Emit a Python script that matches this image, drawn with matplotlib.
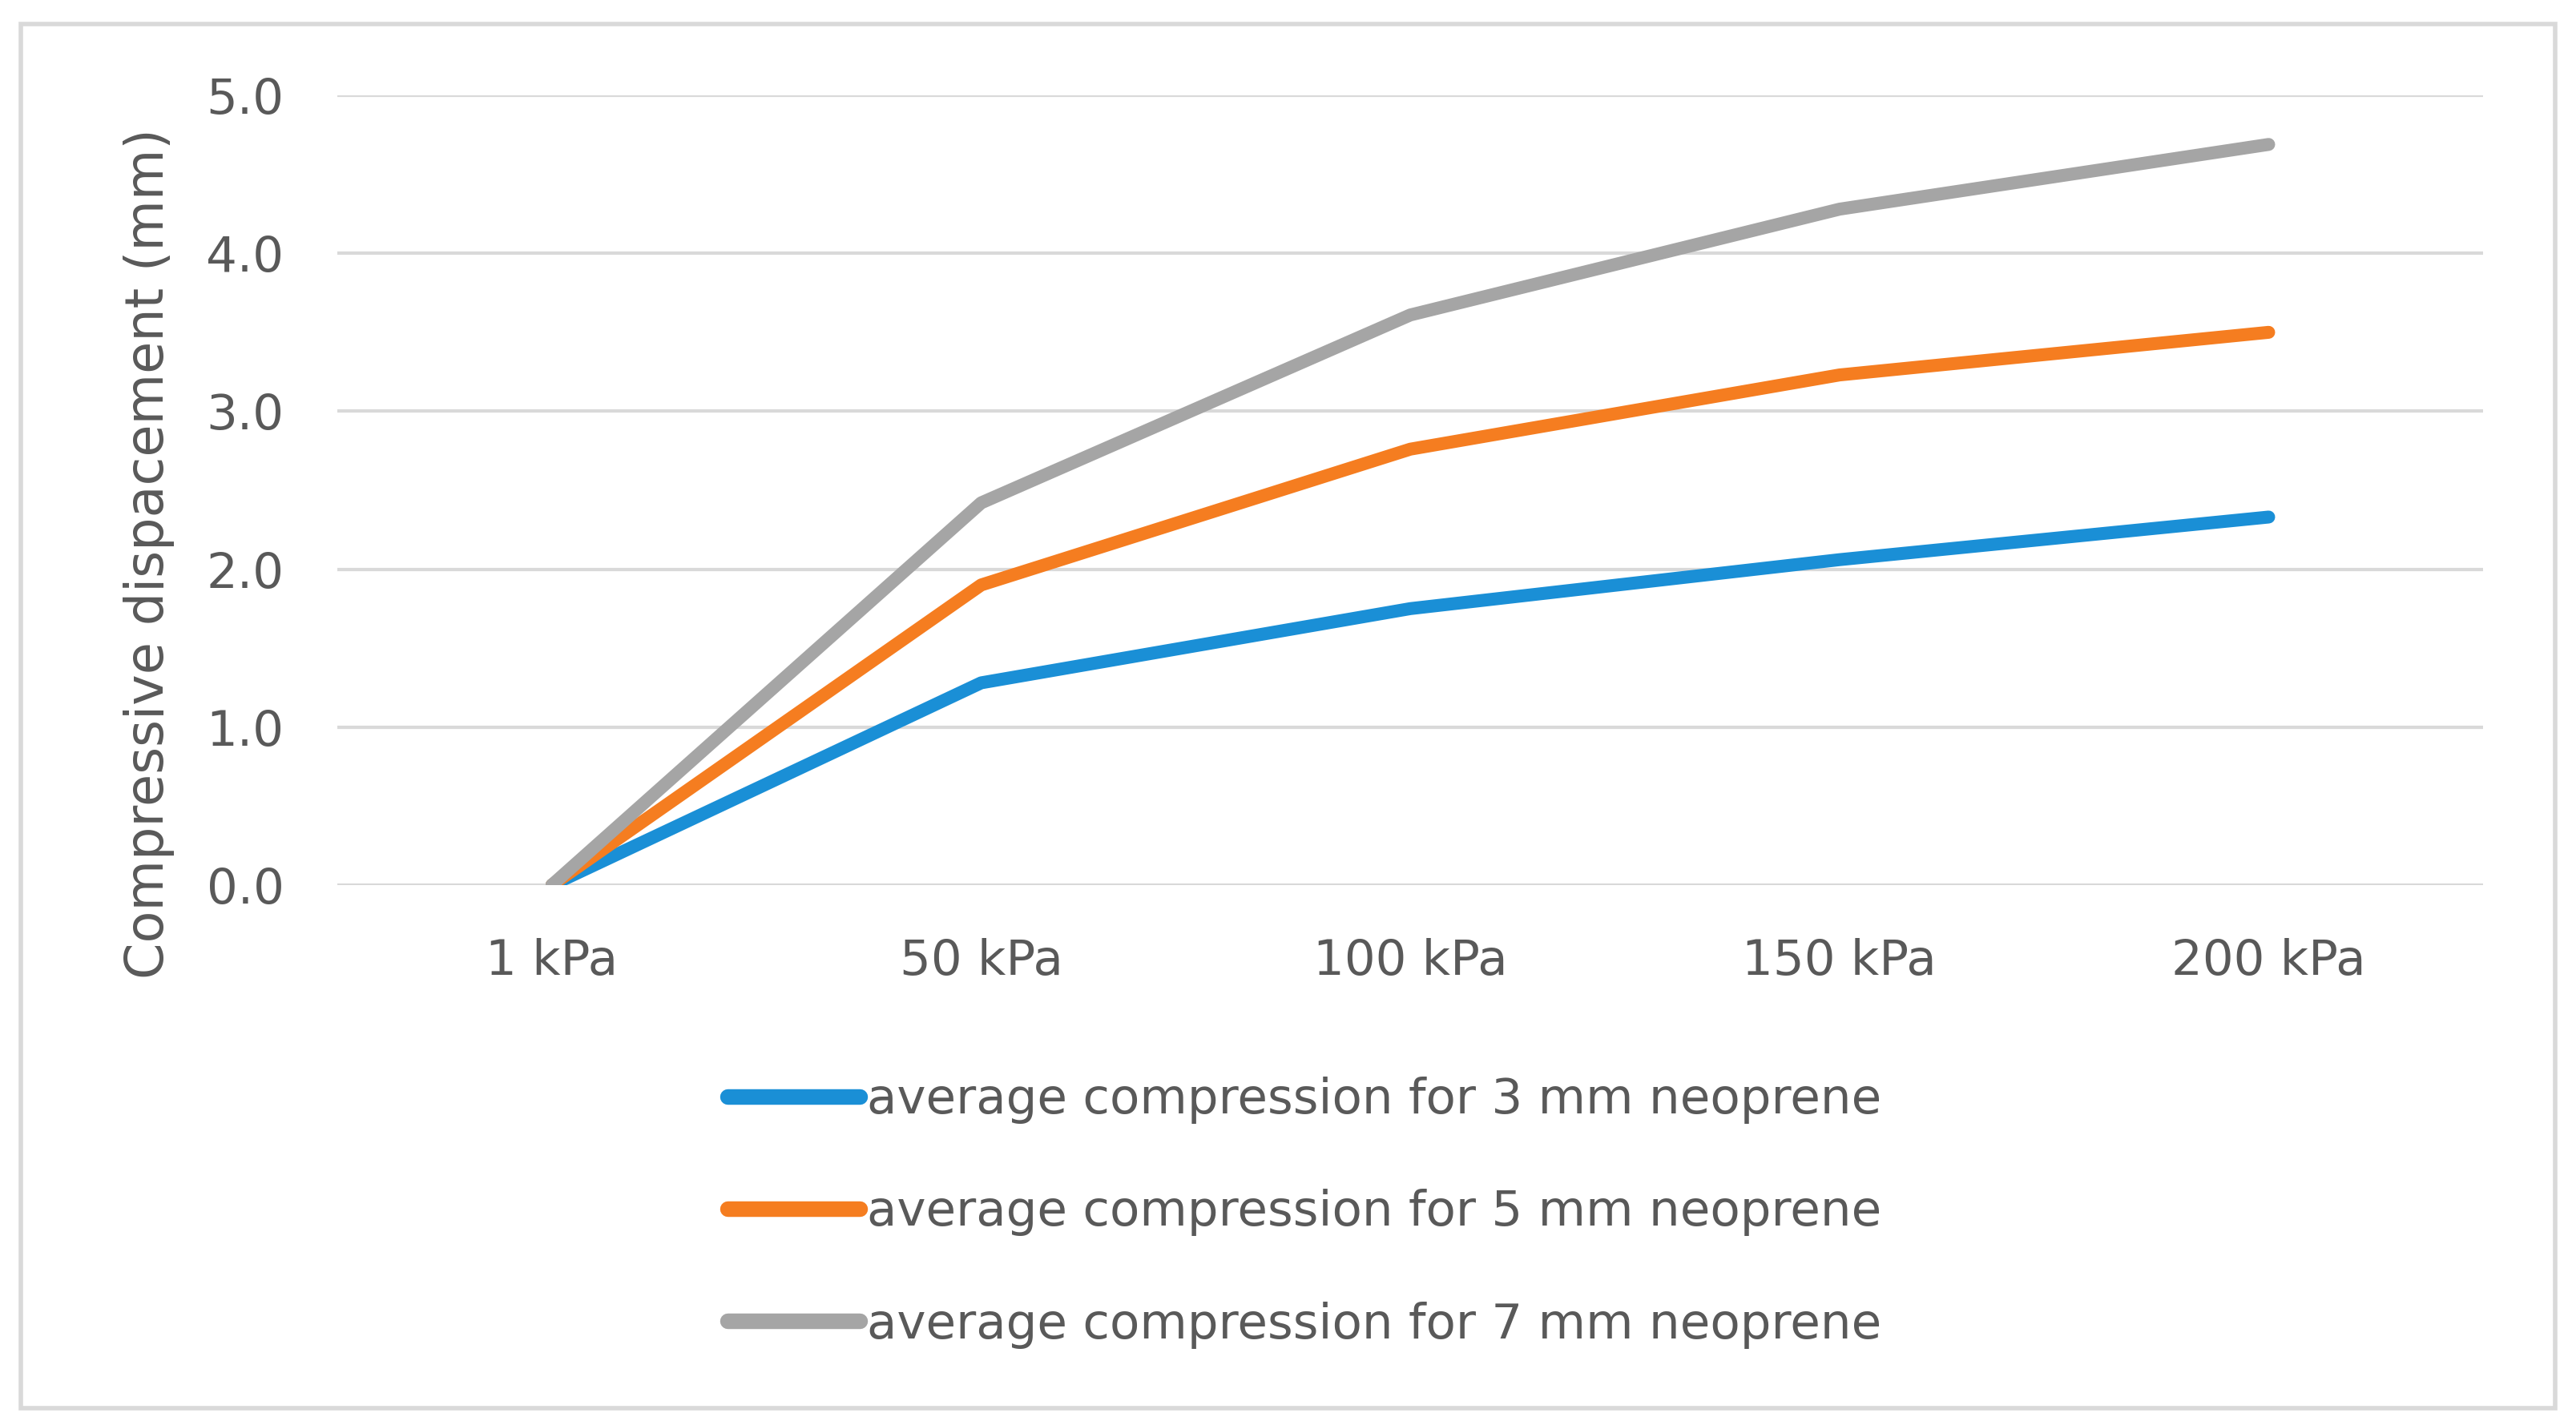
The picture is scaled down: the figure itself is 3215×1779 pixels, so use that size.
import matplotlib
matplotlib.use('Agg')
import matplotlib.pyplot as plt
from matplotlib.patches import Rectangle

plt.rcParams['font.family'] = ['DejaVu Sans']

# data
pressures = ['1 kPa', '50 kPa', '100 kPa', '150 kPa', '200 kPa']
comp_3mm = [0.0, 1.28, 1.75, 2.06, 2.33]
comp_5mm = [0.0, 1.90, 2.76, 3.23, 3.50]
comp_7mm = [0.0, 2.42, 3.61, 4.28, 4.69]
labels = ['average compression for 3 mm neoprene',
          'average compression for 5 mm neoprene',
          'average compression for 7 mm neoprene']
colors = ['#1a8fd6', '#f57d20', '#a5a5a5']

text_col = '#595959'

fig = plt.figure(figsize=(16.075, 8.895), dpi=200)
ax = fig.add_axes([0.131, 0.379, 0.833, 0.554])

x = list(range(len(pressures)))
for vals, lab, c in zip([comp_3mm, comp_5mm, comp_7mm], labels, colors):
    ax.plot(x, vals, color=c, lw=5.8, label=lab, solid_capstyle='round', zorder=3)

ax.set_xlim(-0.5, len(pressures) - 0.5)
ax.set_ylim(0, 5.0)
ax.set_yticks([0, 1, 2, 3, 4, 5])
ax.set_yticklabels(['%.1f' % v for v in [0, 1, 2, 3, 4, 5]])
ax.set_xticks(x)
ax.set_xticklabels(pressures)
ax.tick_params(axis='both', length=0, labelsize=22, labelcolor=text_col)
ax.tick_params(axis='x', pad=24)
ax.tick_params(axis='y', pad=24)
ax.grid(axis='y', color='#d9d9d9', lw=1.5, zorder=0)
for s in ax.spines.values():
    s.set_visible(False)
ax.set_ylabel('Compressive dispacement (mm)', fontsize=23.5, color=text_col)
ax.yaxis.set_label_coords(-0.076, 0.42)

leg = fig.legend(loc='center left', bbox_to_anchor=(0.273, 0.149), frameon=False,
                 fontsize=22, handlelength=2.7, handletextpad=0.15, labelspacing=1.33,
                 borderpad=0, labelcolor=text_col)
for h in leg.get_lines():
    h.set_linewidth(7)

# outer chart border
fig.patches.append(Rectangle((0.008, 0.012), 0.984, 0.971, transform=fig.transFigure,
                             fill=False, edgecolor='#d9d9d9', lw=2))

fig.savefig('out.png', dpi=200)
